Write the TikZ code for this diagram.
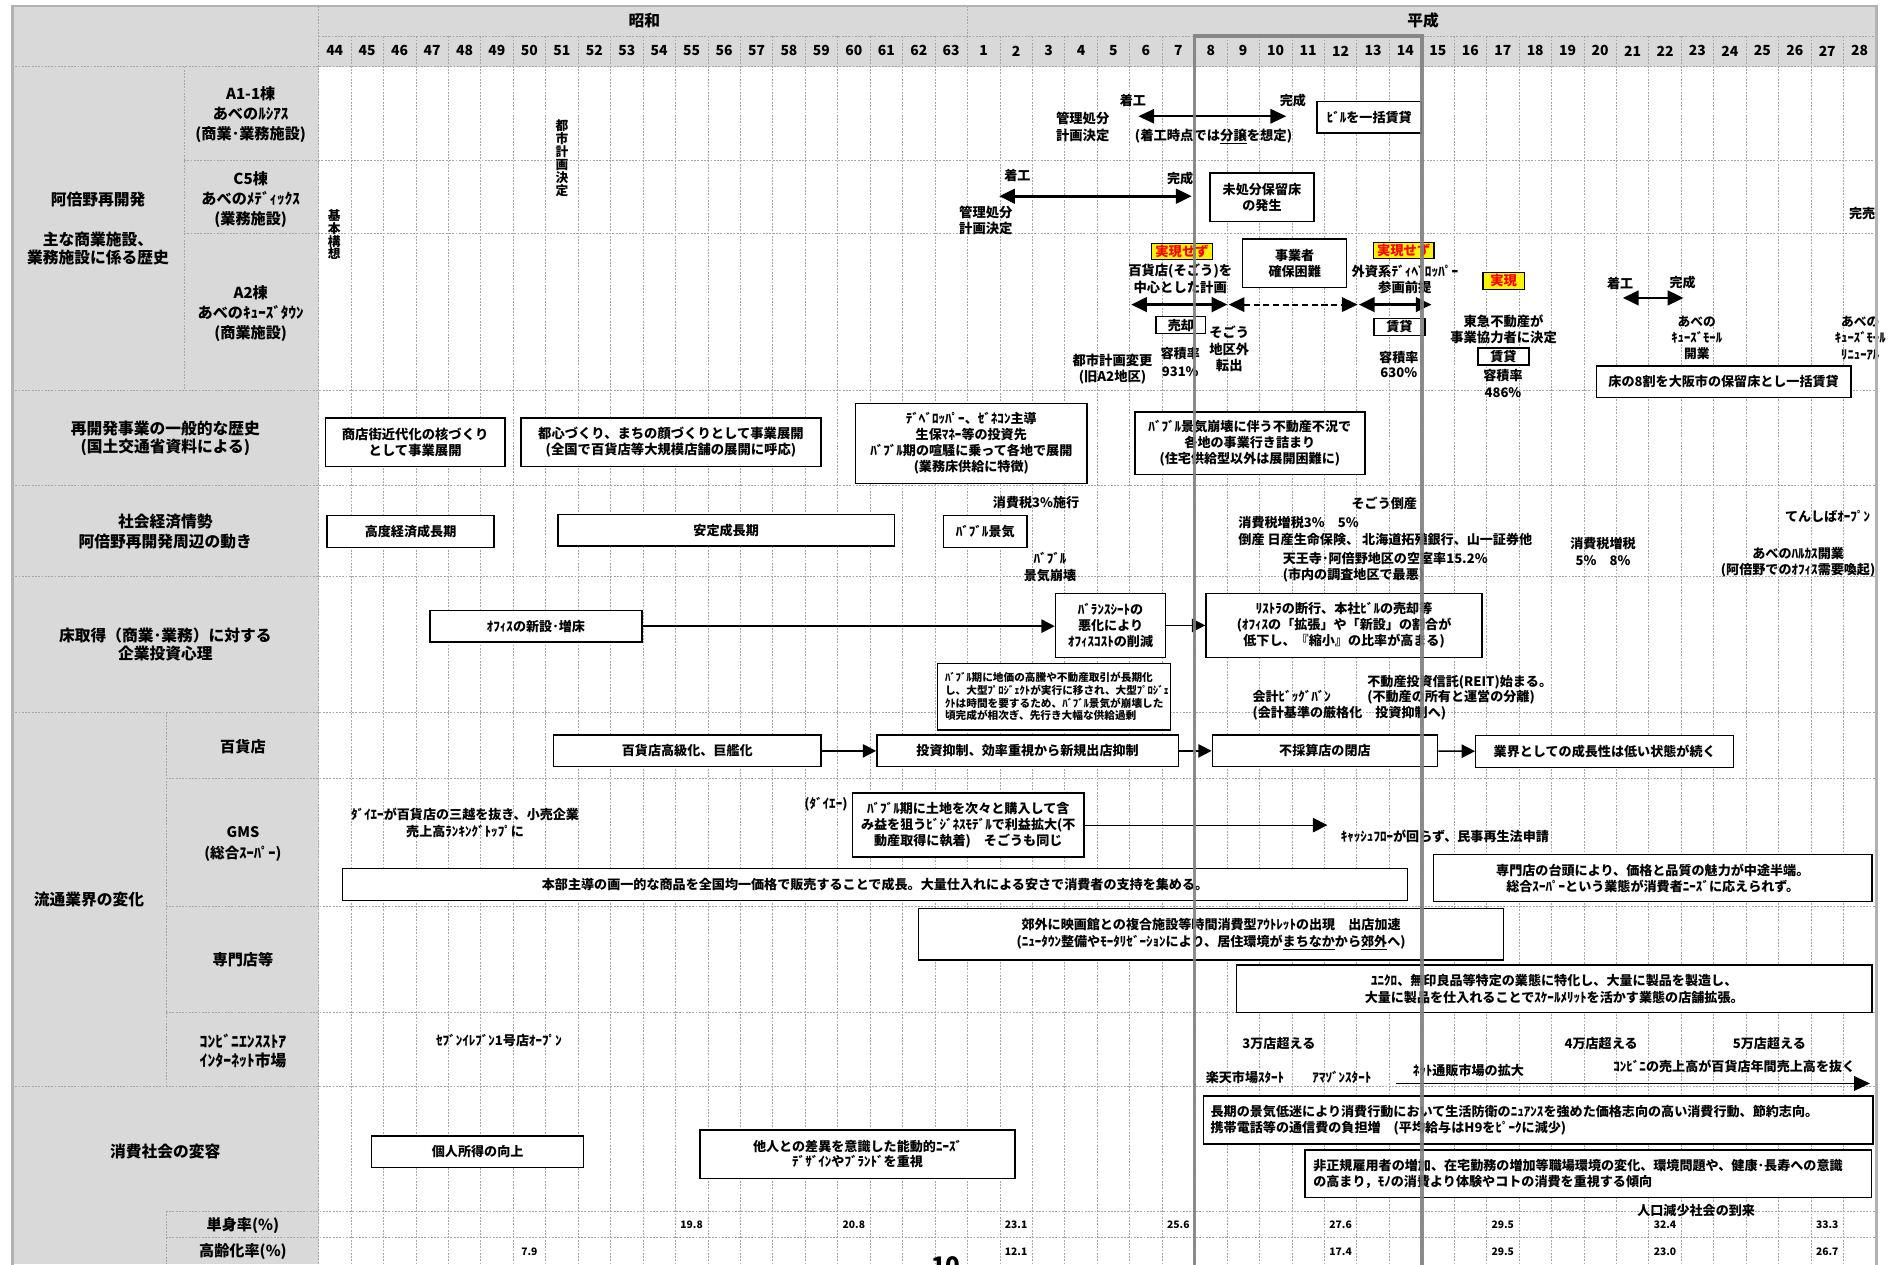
\documentclass[tikz,border=0pt]{standalone}
\usepackage{fontspec}
\setmainfont{Noto Sans CJK JP}[BoldFont={Noto Sans CJK JP Black}]
\usetikzlibrary{arrows.meta}
\newcommand{\jfs}[2]{\fontsize{#1}{#2}\selectfont\bfseries}

\begin{document}
\begin{tikzpicture}
	[x=1pt,y=-1pt,
	every node/.style={inner sep=0pt,align=center,font=\jfs{10.8}{13.5}},
	box/.style={draw,line width=1.2pt,fill=white},
	warn/.style={draw,line width=1pt,fill=yellow,text=red,minimum height=13.5,font=\jfs{11}{12}},
	lbl/.style={font=\jfs{13}{16}},
	sublbl/.style={font=\jfs{12.5}{16.5}},
	yr/.style={font=\jfs{11.5}{12}},
	smalltxt/.style={font=\jfs{8.8}{10.6}},
	val/.style={font=\jfs{8.5}{10}},
	gline/.style={gray!70,line width=.5pt,dash pattern=on 1.5pt off 1.2pt},
	arr/.style={-{Triangle[length=11pt,width=11pt]},line width=1.3pt},
	dbl/.style={{Triangle[length=13pt,width=12pt]}-{Triangle[length=13pt,width=12pt]},line width=2.3pt}]

	% background, header and label columns
	\fill[white] (0,0) rectangle (1568,1044);
	\useasboundingbox (0,0) rectangle (1568,1044);
	\fill[gray!30] (10,5) rectangle (1549,55);
	\fill[gray!30] (10,55) rectangle (263,1044);

	% grid
	\foreach \i in {1,...,47}
		\draw[gline] ({263+\i*26.79},30) -- ({263+\i*26.79},1044);
	\draw[gline] (263,5) -- (263,1044);
	\draw[gline] (799,5) -- (799,30);
	\draw[gline] (152,55) -- (152,322);
	\draw[gline] (137,588) -- (137,897);
	\draw[gline] (137,1000) -- (137,1044);
	\draw[gline] (263,30) -- (1549,30);
	\foreach \yy/\xs in {55/10,132/152,193/152,322/10,401/10,476/10,588/10,643/137,748/137,836/137,897/10,1000/137,1022/137}
		\draw[gline] (\xs,\yy) -- (1549,\yy);

	% era and years
	\node[lbl] (showa) at (532,17) {昭和};
	\node[lbl] (heisei) at (1175,17) {平成};
	\foreach \y [count=\i from 0] in {44,...,63}
		\node[yr] (s\y) at ({263+(\i+.5)*26.79},42) {\y};
	\foreach \y in {1,...,28}
		\node[yr] (h\y) at ({263+(\y+19.5)*26.79},42) {\y};

	% row labels
	\node[lbl] (abeno) at (81,165) {阿倍野再開発};
	\node[lbl,font=\jfs{13}{14.5}] (abeno2) at (81,205.3) {主な商業施設、\\業務施設に係る歴史};
	\node[sublbl] (a11) at (207,95) {A1-1棟\\あべのﾙｼｱｽ\\(商業･業務施設)};
	\node[sublbl] (c5) at (207,164.5) {C5棟\\あべのﾒﾃﾞｨｯｸｽ\\(業務施設)};
	\node[sublbl] (a2) at (207,258.7) {A2棟\\あべのｷｭｰｽﾞﾀｳﾝ\\(商業施設)};
	\node[lbl,font=\jfs{13}{15.5}] (gen) at (136.5,362) {再開発事業の一般的な歴史\\(国土交通省資料による)};
	\node[lbl] (soc) at (136.5,439) {社会経済情勢\\阿倍野再開発周辺の動き};
	\node[lbl,font=\jfs{13}{15}] (inv) at (136.5,532) {床取得（商業･業務）に対する\\企業投資心理};
	\node[lbl] (dist) at (73.5,743) {流通業界の変化};
	\node[sublbl] (dept) at (200.6,616.6) {百貨店};
	\node[sublbl,font=\jfs{12}{17}] (gms) at (200.6,696.8) {GMS\\(総合ｽｰﾊﾟｰ)};
	\node[sublbl] (spec) at (200.6,792.2) {専門店等};
	\node[sublbl,font=\jfs{13}{15.7}] (cvs) at (200.6,868) {ｺﾝﾋﾞﾆｴﾝｽｽﾄｱ\\ｲﾝﾀｰﾈｯﾄ市場};
	\node[lbl] (cons) at (136.5,951) {消費社会の変容};
	\node[sublbl] (single) at (200.6,1011.6) {単身率(\%)};
	\node[sublbl] (aged) at (200.6,1033.6) {高齢化率(\%)};

	% A1-1
	\node[font=\jfs{10.5}{10.7}] (plan) at (464,131) {都\\市\\計\\画\\決\\定};
	\node[font=\jfs{10.5}{10.5}] (kihon) at (276,194) {基\\本\\構\\想};
	\node (a1k) at (935.5,82.6) {着工};
	\node (a1c) at (1067.5,82.6) {完成};
	\node[font=\jfs{11}{13.8}] (a1m) at (894,104.5) {管理処分\\計画決定};
	\node[font=\jfs{11}{13}] (a1n) at (1002,113) {(着工時点では\underline{分譲}を想定)};
	\node[box,minimum width=86,minimum height=26] (a1b) at (1130.6,97) {ﾋﾞﾙを一括賃貸};
	\coordinate (a1l) at (940,96);
	\coordinate (a1r) at (1062,96);
	\draw[dbl,line width=1.3pt] (a1l) -- (a1r);

	% C5
	\node (c5k) at (840,144.5) {着工};
	\node (c5c) at (974.5,147) {完成};
	\node[font=\jfs{11}{13.4}] (c5m) at (814,182.3) {管理処分\\計画決定};
	\node[box,minimum width=86,minimum height=40] (c5b) at (1042,163) {未処分保留床\\の発生};
	\node (c5s) at (1537.6,176) {完売};
	\coordinate (c5l) at (825,162);
	\coordinate (c5r) at (984,162);
	\draw[dbl] (c5l) -- (c5r);

	% A2
	\node[warn,minimum width=50] (ng1) at (976,207.5) {実現せず};
	\node[warn,minimum width=50] (ng2) at (1159,207) {実現せず};
	\node[warn,minimum width=34,minimum height=14] (ok1) at (1241.5,232) {実現};
	\node[font=\jfs{11}{13.7}] (sogo) at (974.5,230) {百貨店(そごう)を\\中心とした計画};
	\node[box,minimum width=86,minimum height=40] (a2b) at (1069,217.5) {事業者\\確保困難};
	\node[font=\jfs{11}{13}] (fdev) at (1160,230.5) {外資系ﾃﾞｨﾍﾞﾛｯﾊﾟｰ\\参画前提};
	\node[box,minimum width=41,minimum height=14] (sell) at (975,268.5) {売却};
	\node[font=\jfs{11}{13.3}] (sogo2) at (1015,288) {そごう\\地区外\\転出};
	\node[font=\jfs{10.8}{14.3}] (far1) at (974.5,299) {容積率\\931\%};
	\node[font=\jfs{11}{13.3}] (cpc) at (918.6,304.5) {都市計画変更\\(旧A2地区)};
	\node[box,minimum width=42,minimum height=14] (rent1) at (1155.5,269.8) {賃貸};
	\node[font=\jfs{10.8}{13}] (far2) at (1155,301) {容積率\\630\%};
	\node[font=\jfs{11}{13}] (tokyu) at (1241.5,272) {東急不動産が\\事業協力者に決定};
	\node[box,minimum width=42,minimum height=14] (rent2) at (1241.3,294.2) {賃貸};
	\node[font=\jfs{10.8}{13.7}] (far3) at (1241,316.5) {容積率\\486\%};
	\node (a2k) at (1337.7,234) {着工};
	\node (a2c) at (1389.3,233) {完成};
	\node[font=\jfs{10.5}{13.5}] (mall) at (1401,279) {あべの\\ｷｭｰｽﾞﾓｰﾙ\\開業};
	\node[font=\jfs{10.5}{13.5}] (renew) at (1536,279) {あべの\\ｷｭｰｽﾞﾓｰﾙ\\ﾘﾆｭｰｱﾙ};
	\node[box,minimum width=210,minimum height=26] (a2l) at (1423.2,315.2) {床の8割を大阪市の保留床とし一括賃貸};
	\coordinate (p1) at (934,251.5);
	\coordinate (p2) at (1013.5,251.5);
	\coordinate (p3) at (1122,251.5);
	\coordinate (p4) at (1182,251.5);
	\draw[dbl] (p1) -- (p2);
	\draw[dbl,line width=1.6pt,dash pattern=on 5pt off 3pt] ([xshift=1pt]p2) -- ([xshift=-1pt]p3);
	\draw[dbl] (p3) -- (p4);
	\coordinate (k1) at (1340,246);
	\coordinate (k2) at (1390,246);
	\draw[dbl] (k1) -- (k2);

	% general history of redevelopment
	\node[box,minimum width=148,minimum height=40,font=\jfs{11}{13}] (g1) at (342.8,365) {商店街近代化の核づくり\\として事業展開};
	\node[box,minimum width=248,minimum height=40,font=\jfs{11}{13}] (g2) at (554,365) {都心づくり、まちの顔づくりとして事業展開\\(全国で百貨店等大規模店舗の展開に呼応)};
	\node[box,minimum width=191,minimum height=66,font=\jfs{10.8}{13.3}] (g3) at (802,366) {ﾃﾞﾍﾞﾛｯﾊﾟｰ、ｾﾞﾈｺﾝ主導\\生保ﾏﾈｰ等の投資先\\ﾊﾞﾌﾞﾙ期の喧騒に乗って各地で展開\\(業務床供給に特徴)};
	\node[box,minimum width=190,minimum height=52,font=\jfs{10.8}{13.3}] (g4) at (1032,366) {ﾊﾞﾌﾞﾙ景気崩壊に伴う不動産不況で\\各地の事業行き詰まり\\(住宅供給型以外は展開困難に)};

	% social and economic situation
	\node[box,minimum width=138,minimum height=26.5] (e1) at (339,439) {高度経済成長期};
	\node[box,minimum width=278,minimum height=26] (e2) at (599.6,438) {安定成長期};
	\node[box,minimum width=69,minimum height=26.5] (e3) at (813.5,439) {ﾊﾞﾌﾞﾙ景気};
	\node (tax1) at (855.5,415) {消費税3\%施行};
	\node[font=\jfs{10.8}{13.8}] (burst) at (867,468) {ﾊﾞﾌﾞﾙ\\景気崩壊};
	\node (sogo3) at (1143,416) {そごう倒産};
	\node[anchor=west] (tax2) at (1022.4,431.3) {消費税増税3\%　5\%};
	\node[anchor=west] (bank) at (1022.4,445.4) {倒産 日産生命保険、 北海道拓殖銀行、山一証券他};
	\node[anchor=west] (vac) at (1059,461) {天王寺･阿倍野地区の空室率15.2\%};
	\node[anchor=west] (vac2) at (1059,474.8) {(市内の調査地区で最悪)};
	\node[font=\jfs{10.8}{13.7}] (tax3) at (1323.6,455.5) {消費税増税\\5\%　8\%};
	\node (tenshiba) at (1509,426.7) {てんしばｵｰﾌﾟﾝ};
	\node[font=\jfs{10.8}{13}] (harukas) at (1484.7,464.2) {あべのﾊﾙｶｽ開業\\(阿倍野でのｵﾌｨｽ需要喚起)};

	% investment in floor space
	\node[box,minimum width=175,minimum height=26] (of1) at (442.5,517) {ｵﾌｨｽの新設･増床};
	\node[box,minimum width=91,minimum height=53,font=\jfs{10.8}{13.5}] (bs1) at (917,516.4) {ﾊﾞﾗﾝｽｼｰﾄの\\悪化により\\ｵﾌｨｽｺｽﾄの削減};
	\node[box,minimum width=228,minimum height=53,font=\jfs{10.8}{13.2}] (rs1) at (1109.8,516.4) {ﾘｽﾄﾗの断行、本社ﾋﾞﾙの売却等\\(ｵﾌｨｽの「拡張」や「新設」の割合が\\低下し、『縮小』の比率が高まる)};
	\node[box,smalltxt,anchor=west,text width=180pt,inner xsep=6pt,minimum height=55,align=left] (ov1) at (773.7,575.2) {ﾊﾞﾌﾞﾙ期に地価の高騰や不動産取引が長期化\\し、大型ﾌﾟﾛｼﾞｪｸﾄが実行に移され、大型ﾌﾟﾛｼﾞｪ\\ｸﾄは時間を要するため、ﾊﾞﾌﾞﾙ景気が崩壊した\\頃完成が相次ぎ、先行き大幅な供給過剰};
	\node[anchor=west,align=left,font=\jfs{10.8}{13.7}] (bigbang) at (1034,582.2) {会計ﾋﾞｯｸﾞﾊﾞﾝ\\(会計基準の厳格化　投資抑制へ)};
	\node[anchor=west,align=left,font=\jfs{10.8}{12.8}] (reit) at (1128.8,569.4) {不動産投資信託(REIT)始まる。\\(不動産の所有と運営の分離)};
	\draw[arr] (of1.east) -- (of1.east -| bs1.west);
	\draw[arr] (bs1.east) -- (bs1.east -| rs1.west);

	% department stores
	\node[box,minimum width=221,minimum height=26] (d1) at (567.5,620) {百貨店高級化、巨艦化};
	\node[box,minimum width=249,minimum height=26] (d2) at (848.5,620) {投資抑制、効率重視から新規出店抑制};
	\node[box,minimum width=186,minimum height=26] (d3) at (1094,620) {不採算店の閉店};
	\node[box,minimum width=213,minimum height=26] (d4) at (1325,620.5) {業界としての成長性は低い状態が続く};
	\foreach \from/\to in {d1/d2,d2/d3,d3/d4}
		\draw[arr] (\from) -- (\to);

	% GMS
	\node[font=\jfs{10.8}{14.3}] (daiei) at (384,679.7) {ﾀﾞｲｴｰが百貨店の三越を抜き、小売企業\\売上高ﾗﾝｷﾝｸﾞﾄｯﾌﾟに};
	\node (daiei2) at (682,664) {(ﾀﾞｲｴｰ)};
	\node[box,minimum width=191,minimum height=53,font=\jfs{10.8}{13}] (bz2) at (799.5,681.3) {ﾊﾞﾌﾞﾙ期に土地を次々と購入して含\\み益を狙うﾋﾞｼﾞﾈｽﾓﾃﾞﾙで利益拡大(不\\動産取得に執着)　そごうも同じ};
	\node (cash) at (1193,691) {ｷｬｯｼｭﾌﾛｰが回らず、民事再生法申請};
	\node[box,minimum width=879,minimum height=26.5] (gm1) at (722.5,730.4) {本部主導の画一的な商品を全国均一価格で販売することで成長。大量仕入れによる安さで消費者の支持を集める。};
	\node[box,minimum width=362,minimum height=39,font=\jfs{10.8}{13.2}] (gm2) at (1364.7,725) {専門店の台頭により、価格と品質の魅力が中途半端。\\総合ｽｰﾊﾟｰという業態が消費者ﾆｰｽﾞに応えられず。};
	\coordinate (g1end) at (1096,681.3);
	\draw[-{Triangle[length=12pt,width=12pt]},line width=.8pt] (bz2) -- (g1end);

	% specialty stores
	\node[box,minimum width=483,minimum height=42.5,font=\jfs{10.8}{14.6}] (sp1) at (1000,771.3) {郊外に映画館との複合施設等時間消費型ｱｳﾄﾚｯﾄの出現　出店加速\\(ﾆｭｰﾀｳﾝ整備やﾓｰﾀﾘｾﾞｰｼｮﾝにより、居住環境が\underline{まちなか}から\underline{郊外}へ)};
	\node[box,minimum width=525,minimum height=39.3,font=\jfs{10.8}{14.4}] (sp2) at (1283.3,816.5) {ﾕﾆｸﾛ、無印良品等特定の業態に特化し、大量に製品を製造し、\\大量に製品を仕入れることでｽｹｰﾙﾒﾘｯﾄを活かす業態の店舗拡張。};

	% convenience stores and internet
	\node (seven) at (412,859.4) {ｾﾌﾞﾝｲﾚﾌﾞﾝ1号店ｵｰﾌﾟﾝ};
	\node (cv3) at (1056,862) {3万店超える};
	\node (cv4) at (1322,862) {4万店超える};
	\node (cv5) at (1461,862) {5万店超える};
	\node (rakuten) at (1028,889.6) {楽天市場ｽﾀｰﾄ};
	\node (amazon) at (1108,889.6) {ｱﾏｿﾞﾝｽﾀｰﾄ};
	\node (net) at (1212.4,884) {ﾈｯﾄ通販市場の拡大};
	\node (cvsale) at (1432,880.8) {ｺﾝﾋﾞﾆの売上高が百貨店年間売上高を抜く};
	\coordinate (net0) at (1153,894.6);
	\coordinate (net1) at (1544,894.6);
	\draw[-{Triangle[length=13pt,width=12pt]},line width=1.3pt] (net0) -- (net1);

	% consumer society
	\node[box,minimum width=175,minimum height=26] (cs1) at (394.4,951.1) {個人所得の向上};
	\node[box,minimum width=260,minimum height=40,font=\jfs{10.8}{12.8}] (cs2) at (708.1,953) {他人との差異を意識した能動的ﾆｰｽﾞ\\ﾃﾞｻﾞｲﾝやﾌﾞﾗﾝﾄﾞを重視};
	\node[box,anchor=west,text width=541pt,inner xsep=6pt,minimum height=39.7,align=left,font=\jfs{10.8}{13.7}] (cs3) at (993,924.9) {長期の景気低迷により消費行動において生活防衛のﾆｭｱﾝｽを強めた価格志向の高い消費行動、節約志向。\\携帯電話等の通信費の負担増　(平均給与はH9をﾋﾟｰｸに減少)};
	\node[box,anchor=west,text width=454pt,inner xsep=7pt,minimum height=39.1,align=left,font=\jfs{10.8}{13}] (cs4) at (1076.8,969.2) {非正規雇用者の増加、在宅勤務の増加等職場環境の変化、環境問題や、健康･長寿への意識\\の高まり，ﾓﾉの消費より体験やコトの消費を重視する傾向};
	\node (popdec) at (1400.5,999.7) {人口減少社会の到来};

	% rates
	\foreach \c/\v in {11/19.8,16/20.8,21/23.1,26/25.6,31/27.6,36/29.5,41/32.4,46/33.3}
		\node[val] (t\c) at ({263+(\c+.5)*26.79},1011.6) {\v};
	\foreach \c/\v in {6/7.9,21/12.1,31/17.4,36/29.5,41/23.0,46/26.7}
		\node[val] (r\c) at ({263+(\c+.5)*26.79},1033.6) {\v};
	\node[anchor=north,font=\jfs{20}{22}] (page) at (781,1037.5) {10};

	% frame and highlighted period
	\draw[gray!60,line width=2.3pt] (10,1046) -- (10,5) -- (1549.5,5) -- (1549.5,1046);
	\draw[black!50,line width=3.2pt,opacity=.9] (986.3,1046) -- (986.3,30) -- (1173.9,30) -- (1173.9,1046);
\end{tikzpicture}
\end{document}
